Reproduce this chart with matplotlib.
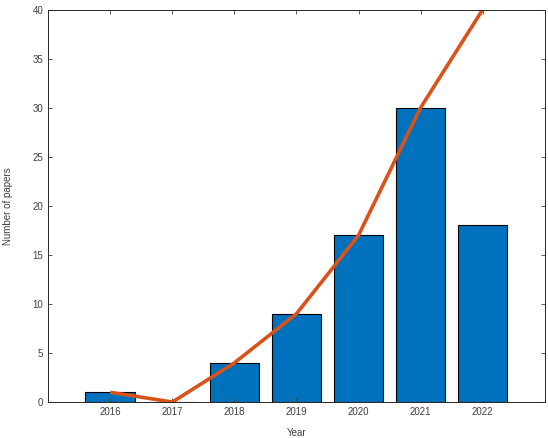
import matplotlib.pyplot as plt

# data
years = [2016, 2017, 2018, 2019, 2020, 2021, 2022]
papers = [1, 0, 4, 9, 17, 30, 18]
trend = [1, 0, 4, 9, 17, 30, 40]

BAR_COLOR = "#0072BD"
LINE_COLOR = "#D95319"
TEXT_COLOR = "#404040"

plt.rcParams["font.family"] = ["Liberation Sans", "DejaVu Sans"]

fig = plt.figure(figsize=(5.48, 4.38), dpi=100)
ax = fig.add_axes([0.088, 0.082, 0.906, 0.896])

ax.bar(years, papers, width=0.8, color=BAR_COLOR, edgecolor="black", linewidth=0.8)
ax.plot(years, trend, color=LINE_COLOR, linewidth=2.6, solid_capstyle="butt", clip_on=True)

ax.set_xlim(2015, 2023)
ax.set_ylim(0, 40)
ax.set_xticks(years)
ax.set_yticks(range(0, 41, 5))

ax.tick_params(direction="in", length=3, width=0.6, labelsize=7,
               colors=TEXT_COLOR, top=True, right=True)
for sp in ax.spines.values():
    sp.set_color("#262626")
    sp.set_linewidth(0.7)

ax.set_xlabel("Year", fontsize=7, color=TEXT_COLOR, labelpad=8)
ax.set_ylabel("Number of papers", fontsize=7, color=TEXT_COLOR, labelpad=14)

fig.savefig("out.png", dpi=100)
